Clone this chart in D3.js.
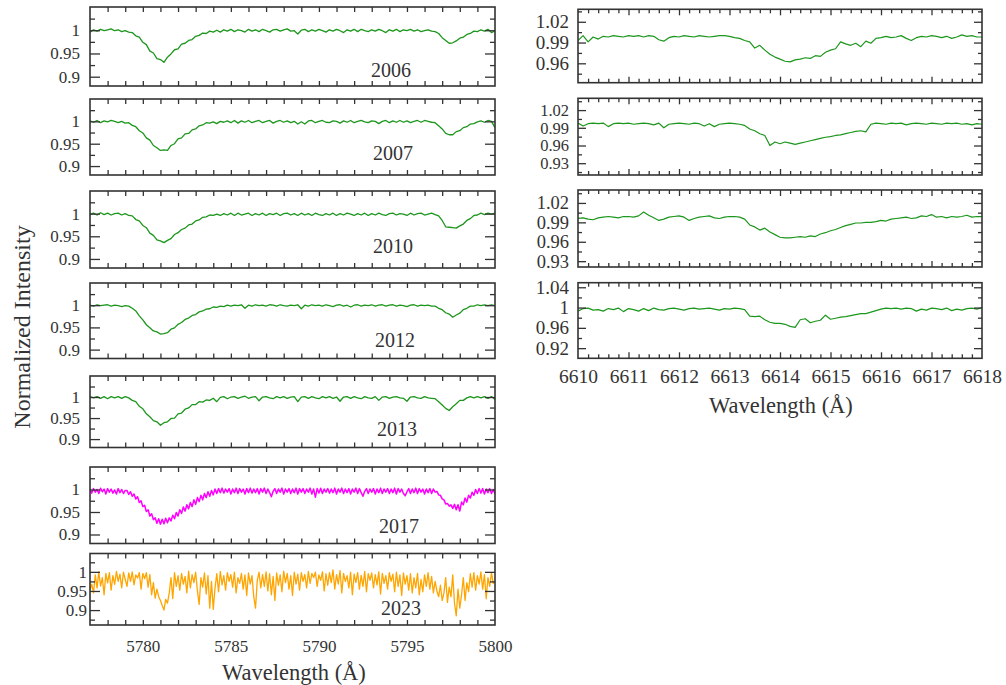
<!DOCTYPE html>
<html>
<head>
<meta charset="utf-8">
<script src="https://cdn.jsdelivr.net/npm/d3@7"></script>
<style>
  body { margin: 0; background: #fff; }
  svg { display: block; }
  text { font-family: "Liberation Serif", "Times New Roman", serif; fill: #333; }
</style>
</head>
<body>
<svg id="fig" width="1006" height="685" font-family="Liberation Serif, serif"></svg>
<script>
// ---- 5780/5797 DIB region, normalized flux per epoch ----
const blueStart = 5777;
const blueEnd = 5800;
const years = ["2006", "2007", "2010", "2012", "2013", "2017", "2023"];

// 0.2 A sampling
const flux2006 = [0.996,1.001,0.998,1.002,0.999,1.001,1.003,0.999,1.001,0.997,0.999,0.996,
  0.995,0.988,0.985,0.974,0.969,0.955,0.951,0.939,0.937,0.931,0.942,0.949,0.958,0.960,0.970,0.972,0.978,0.980,0.987,0.989,0.994,0.993,0.998,0.996,
  1.000,0.996,1.001,0.998,1.002,0.997,1.001,0.999,0.996,1.002,
  0.998,1.001,0.997,1.002,0.999,0.996,1.001,1.002,0.998,1.001,
  1.003,0.998,0.999,0.992,1.000,1.002,0.997,1.001,0.998,1.002,
  0.999,0.996,1.001,0.998,1.002,0.999,0.995,1.001,0.998,1.002,
  0.997,1.002,0.999,0.997,1.001,0.998,1.002,0.999,0.995,1.001,
  0.998,1.002,0.997,1.001,0.999,1.002,0.998,1.001,0.997,0.999,
  1.001,0.998,
  0.997,0.993,0.984,0.978,0.972,0.973,0.977,0.983,0.985,0.991,0.993,0.998,0.997,1.001,0.998,1.002,0.995,0.999];

const flux2007 = [1.001,0.998,1.002,0.997,1.001,0.999,1.002,1.000,0.997,1.000,0.996,0.997,
  0.991,0.988,0.979,0.974,0.963,0.958,0.946,0.941,0.935,0.936,0.935,0.946,0.950,0.961,0.963,0.972,0.973,0.981,0.983,0.990,0.992,0.997,0.996,0.999,
  0.995,1.000,0.998,1.001,0.997,1.002,0.996,1.001,0.998,1.002,
  0.997,1.000,1.002,0.997,1.000,1.002,0.996,1.000,1.002,0.998,
  1.001,0.997,1.000,0.994,0.999,0.994,1.001,1.002,0.997,1.000,
  1.002,0.998,0.997,1.001,1.000,0.996,1.001,0.998,1.002,0.997,
  1.000,1.002,0.999,0.997,1.001,1.000,0.995,1.000,1.002,0.997,
  1.001,0.998,1.002,0.998,1.001,0.997,1.000,1.002,0.998,1.002,
  1.000,0.998,
  0.997,0.990,0.983,0.973,0.970,0.970,0.977,0.979,0.986,0.988,0.994,0.995,0.999,1.001,0.998,1.002,1.000,0.986];

const flux2010 = [0.998,1.001,0.997,1.002,0.998,1.001,0.997,1.000,1.001,0.997,1.000,0.996,
  0.995,0.987,0.984,0.974,0.969,0.957,0.952,0.942,0.940,0.936,0.941,0.945,0.954,0.958,0.965,0.968,0.975,0.977,0.984,0.986,0.992,0.993,0.997,0.996,
  0.999,0.996,1.000,0.997,1.001,0.996,1.001,0.997,0.999,1.001,
  0.996,1.000,0.997,1.001,0.996,1.000,0.998,1.001,0.996,1.000,
  1.001,0.997,1.000,0.996,1.001,0.997,1.000,0.996,1.001,0.998,
  0.996,1.000,0.997,1.001,0.996,1.000,0.997,1.001,0.999,0.996,
  1.000,0.997,1.001,0.996,1.000,0.997,1.001,0.998,0.996,1.000,
  1.001,0.997,1.000,0.999,0.996,1.001,0.997,1.000,1.001,0.997,
  0.999,1.001,
  0.998,0.995,0.985,0.971,0.970,0.969,0.968,0.973,0.977,0.985,0.989,0.996,0.997,1.001,0.998,1.001,0.999,1.001];

const flux2012 = [1.000,0.998,1.001,0.999,1.000,1.001,0.998,1.000,0.999,0.997,0.999,0.998,
  0.993,0.987,0.976,0.967,0.956,0.949,0.942,0.940,0.935,0.936,0.938,0.946,0.949,0.957,0.961,0.968,0.971,0.977,0.979,0.985,0.987,0.991,0.992,0.996,
  0.995,0.998,0.997,1.000,0.998,1.000,0.999,1.001,0.993,1.000,
  0.998,1.001,0.999,1.000,0.998,1.001,1.000,0.998,1.001,0.999,
  0.998,1.000,0.999,1.001,0.992,1.000,0.998,1.001,0.999,1.000,
  0.998,1.001,0.999,0.997,1.000,1.001,0.998,1.000,0.996,1.000,
  1.001,0.998,1.000,0.999,1.001,0.998,1.000,1.001,0.998,1.000,
  1.001,0.998,1.000,0.999,0.997,1.000,1.001,0.998,1.000,0.999,
  1.000,0.998,
  0.998,0.993,0.990,0.983,0.980,0.973,0.978,0.982,0.990,0.993,0.998,0.998,1.001,0.999,1.001,0.999,1.001,0.999];

const flux2013 = [1.001,0.998,1.001,0.997,1.001,0.996,1.001,0.998,1.001,0.997,1.001,0.998,
  0.992,0.989,0.978,0.972,0.960,0.953,0.944,0.941,0.933,0.939,0.941,0.949,0.950,0.960,0.962,0.971,0.974,0.982,0.982,0.989,0.988,0.993,0.992,0.997,
  0.989,0.999,1.001,0.996,1.000,1.001,0.997,1.000,1.002,0.997,
  1.000,1.001,0.991,1.000,1.001,0.998,0.996,1.001,0.998,1.001,
  0.997,1.000,1.001,0.989,1.000,1.001,0.997,1.001,0.998,0.996,
  1.001,0.998,1.001,0.997,1.000,0.990,1.000,1.001,0.997,1.001,
  0.998,0.996,1.001,0.998,0.997,1.001,0.992,1.000,1.001,0.997,
  1.000,1.001,0.998,0.997,0.990,1.000,1.001,0.998,0.997,1.001,
  0.998,0.997,
  0.996,0.989,0.981,0.973,0.968,0.977,0.984,0.992,0.992,0.998,1.001,0.998,1.001,0.998,1.001,0.997,1.001,0.994];

// 0.1 A sampling
const flux2017 = [1.001,0.992,1.002,0.994,1.000,0.991,1.003,0.995,1.001,0.990,1.002,0.994,1.001,0.992,0.999,0.990,1.002,0.993,1.000,0.991,0.998,
  0.998,0.989,0.995,0.985,0.990,0.979,0.984,0.971,0.975,0.962,0.965,0.951,0.955,0.941,0.946,0.933,0.937,0.925,0.935,0.923,
  0.934,0.924,0.936,0.926,0.937,0.930,0.943,0.935,0.949,0.941,0.955,0.947,0.961,0.952,0.966,0.957,0.971,0.962,0.977,0.967,
  0.982,0.973,0.987,0.977,0.991,0.982,0.995,0.985,0.998,0.988,
  1.001,0.991,1.002,0.993,1.003,0.992,1.001,0.994,1.002,0.990,
  1.001,0.993,1.003,0.991,1.002,0.994,1.001,0.990,1.002,0.993,
  1.003,0.992,1.001,0.993,1.002,0.990,1.002,0.994,1.003,0.991,
  1.001,0.993,0.984,0.996,1.002,0.991,1.001,0.994,1.003,0.990,
  1.001,0.994,1.002,0.991,1.001,0.993,1.003,0.990,1.002,0.994,
  1.002,0.991,1.001,0.994,1.003,0.990,1.001,0.983,1.002,0.992,
  1.003,0.991,1.001,0.994,1.002,0.992,1.001,0.993,1.003,0.990,
  1.001,0.994,1.003,0.991,1.001,0.993,1.002,0.990,1.001,0.994,
  1.003,0.991,1.002,0.993,0.985,0.996,1.002,0.991,1.001,0.994,
  1.002,0.990,1.001,0.993,1.003,0.991,1.001,0.994,1.002,0.991,
  1.001,0.993,1.003,0.990,1.002,0.994,1.001,0.991,0.986,0.995,
  1.002,0.991,1.001,0.993,1.003,0.991,1.002,0.994,1.001,0.990,
  1.001,0.993,1.002,0.991,1.001,0.994,
  0.996,0.988,0.987,0.979,0.977,0.968,0.969,0.963,0.966,0.958,0.967,0.955,0.966,0.952,0.972,0.966,0.981,
  0.972,0.987,0.981,0.994,0.987,1.000,0.991,1.002,0.992,1.002,0.990,1.001,0.993,1.002,0.991,1.000,0.990];

const flux2023 = [0.952,0.968,0.945,0.992,0.958,1.000,0.963,0.985,0.940,0.996,0.971,
  0.998,0.952,0.990,0.967,1.001,0.975,0.994,0.958,0.999,0.980,
  0.962,0.997,0.975,1.000,0.966,0.992,0.984,0.998,0.955,0.996,
  0.982,0.998,0.960,0.993,0.940,0.972,0.931,0.955,0.935,0.925,
  0.912,0.900,0.928,0.918,0.945,0.985,0.930,0.998,0.962,0.990,
  0.952,0.996,0.968,0.988,0.945,1.002,0.958,0.993,0.972,0.999,
  0.950,0.915,0.985,0.960,0.997,0.942,0.990,0.905,0.975,0.902,
  0.958,0.995,0.948,1.001,0.966,0.990,0.952,0.998,0.975,0.993,
  0.960,0.999,0.945,0.985,0.970,0.996,0.955,0.992,0.938,0.997,
  0.968,0.990,0.935,0.905,0.978,0.999,0.958,0.993,0.962,1.000,
  0.950,0.995,0.940,0.988,0.925,0.997,0.965,0.992,0.948,1.002,
  0.972,0.996,0.955,0.990,0.938,0.999,0.968,0.994,0.952,0.998,
  0.975,0.993,0.958,1.001,0.970,0.996,0.985,0.999,0.962,0.992,
  0.978,1.000,0.950,0.995,0.965,0.998,0.972,1.005,0.955,0.993,
  0.968,1.003,0.945,0.996,0.975,0.990,0.958,0.999,0.940,0.994,
  0.972,0.998,0.955,0.991,0.962,1.001,0.948,0.995,0.978,0.997,
  0.958,0.993,0.966,1.000,0.942,0.996,0.970,0.990,0.955,0.998,
  0.975,0.994,0.948,0.999,0.962,0.992,0.938,0.997,0.968,0.990,
  0.952,0.995,0.945,0.985,0.958,0.996,0.940,0.980,0.948,0.992,
  0.962,0.998,0.955,0.988,0.945,0.975,0.950,0.935,0.965,0.925,
  0.945,0.985,0.920,0.960,0.935,0.992,0.918,0.885,0.955,0.905,
  0.940,0.985,0.925,0.972,0.948,0.995,0.960,0.998,0.952,0.990,
  0.968,1.000,0.955,0.993,0.930,0.985,0.962,0.998,0.970,0.975];

// ---- 6614 DIB region, 0.1 A sampling ----
const redStart = 6610;
const redEnd = 6618;
const flux6614a = [0.993,1.000,0.991,0.998,0.995,0.999,0.998,1.000,0.999,0.998,1.000,
  0.999,1.000,0.998,1.000,0.999,0.994,0.992,0.997,0.999,0.998,
  1.000,0.999,0.998,1.000,0.999,0.998,0.999,1.000,1.000,0.999,0.997,0.996,
  0.993,0.991,0.982,0.986,0.979,0.973,0.969,0.966,0.963,0.962,0.965,0.966,0.968,0.967,0.971,0.970,0.976,0.979,0.981,0.991,0.988,0.986,0.989,0.984,0.992,0.989,0.996,
  0.997,0.999,0.997,0.998,1.000,0.996,0.993,0.997,0.999,0.998,1.000,0.999,0.997,0.999,0.996,0.998,1.001,0.999,1.000,0.998,0.998];
const flux6614b = [0.998,0.993,0.997,0.998,0.997,0.998,0.992,0.997,0.998,0.997,0.998,
  0.996,0.997,0.998,0.997,0.995,0.998,0.990,0.996,0.997,0.998,
  0.997,0.996,0.998,0.997,0.993,0.997,0.992,0.996,0.997,0.998,0.997,
  0.996,0.994,0.988,0.985,0.980,0.977,0.960,0.966,0.963,0.966,0.964,0.962,0.964,0.966,0.968,0.970,0.972,0.974,0.975,0.977,0.978,0.980,0.982,0.984,0.985,0.983,0.996,
  0.998,0.997,0.996,0.998,0.997,0.998,0.995,0.997,0.998,0.997,0.996,0.998,0.997,0.996,0.998,0.997,0.998,0.996,0.997,0.995,0.997,0.996];
const flux6614c = [0.996,0.997,0.995,0.994,0.997,0.998,0.999,0.998,0.997,0.999,0.999,
  0.998,1.000,1.006,1.001,0.997,0.993,0.995,0.998,0.999,1.000,
  0.998,0.993,0.996,0.998,0.999,1.000,0.997,0.996,0.998,0.999,0.999,0.998,
  0.995,0.986,0.983,0.978,0.981,0.975,0.971,0.967,0.966,0.966,0.967,0.968,0.967,0.969,0.968,0.972,0.974,0.977,0.979,0.982,0.985,0.987,0.989,0.989,0.990,0.990,0.991,
  0.993,0.992,0.995,0.996,0.997,0.998,0.996,0.997,1.000,0.999,1.002,0.998,0.999,0.997,0.999,0.998,0.999,1.001,0.998,0.999,0.999];
const flux6614d = [0.993,0.998,0.999,0.995,0.996,0.993,0.998,0.996,0.999,0.992,0.998,
  0.996,0.993,0.998,0.994,0.999,0.996,0.995,0.998,0.999,0.997,
  0.995,0.998,0.999,0.997,0.998,0.999,0.997,0.995,0.998,0.997,0.999,0.998,
  0.996,0.983,0.982,0.983,0.976,0.971,0.969,0.969,0.967,0.963,0.961,0.976,0.978,0.970,0.973,0.975,0.985,0.977,0.979,0.981,0.982,0.984,0.986,0.988,0.988,0.991,0.994,
  0.997,0.999,0.998,0.999,0.997,0.999,0.998,0.993,0.997,0.995,0.999,0.998,0.996,0.999,0.994,0.997,0.995,0.998,0.999,0.997,1.000];

// ---- tick labels ----
const blueWaveLabels = [5780, 5785, 5790, 5795, 5800];
const redWaveLabels = [6610, 6611, 6612, 6613, 6614, 6615, 6616, 6617, 6618];
const blueFluxLabels = [0.9, 0.95, 1];
const redFluxLabelsA = [0.96, 0.99, 1.02];
const redFluxLabelsB = [0.93, 0.96, 0.99, 1.02];
const redFluxLabelsC = [0.93, 0.96, 0.99, 1.02];
const redFluxLabelsD = [0.92, 0.96, 1, 1.04];

// ---- drawing ----
const SERIF = "Liberation Serif, Times New Roman, serif";
const INK = "#333";
const GREEN = "#1c961c";
const MAGENTA = "#ff00ff";
const ORANGE = "#ffa500";
const svg = d3.select("#fig");
const defs = svg.append("defs");
const fmt = d => String(+d.toFixed(3));

const leftBox = { left: 90, right: 495 };
const rightBox = { left: 578, right: 982 };

const leftPanels = [
  { year: years[0], flux: flux2006, step: 0.2, color: GREEN, top: 7, bottom: 86, dom: [0.88, 1.05], lab: [391, 77], lw: 1.3 },
  { year: years[1], flux: flux2007, step: 0.2, color: GREEN, top: 99, bottom: 175, dom: [0.88, 1.05], lab: [393, 160], lw: 1.3 },
  { year: years[2], flux: flux2010, step: 0.2, color: GREEN, top: 191, bottom: 268, dom: [0.88, 1.05], lab: [393, 253], lw: 1.3 },
  { year: years[3], flux: flux2012, step: 0.2, color: GREEN, top: 283, bottom: 358.5, dom: [0.88, 1.05], lab: [395, 347], lw: 1.3 },
  { year: years[4], flux: flux2013, step: 0.2, color: GREEN, top: 376, bottom: 447.5, dom: [0.88, 1.05], lab: [397, 436], lw: 1.3 },
  { year: years[5], flux: flux2017, step: 0.1, color: MAGENTA, top: 467, bottom: 543.5, dom: [0.88, 1.05], lab: [399, 533], lw: 1.5 },
  { year: years[6], flux: flux2023, step: 0.1, color: ORANGE, top: 553.5, bottom: 625, dom: [0.861, 1.048], lab: [401, 615], lw: 1.3, pad: 3 }
];

const rightPanels = [
  { flux: flux6614a, top: 9.3, bottom: 82.7, dom: [0.932, 1.038], ticks: redFluxLabelsA, minor: [0.945, 0.975, 1.005, 1.035], fs: 19 },
  { flux: flux6614b, top: 98.3, bottom: 175, dom: [0.910, 1.040], ticks: redFluxLabelsB, minor: [0.915, 0.945, 0.975, 1.005, 1.035], fs: 16.5 },
  { flux: flux6614c, top: 190, bottom: 267, dom: [0.921, 1.040], ticks: redFluxLabelsC, minor: [0.945, 0.975, 1.005, 1.035], fs: 18.5 },
  { flux: flux6614d, top: 282.7, bottom: 358.3, dom: [0.900, 1.049], ticks: redFluxLabelsD, minor: [0.94, 0.98, 1.02], fs: 19 }
];

function tickAxis(g, axisFn, scale, values, len, tx, ty) {
  const a = g.append("g").attr("transform", `translate(${tx},${ty})`)
    .call(axisFn(scale).tickValues(values).tickSize(-len).tickFormat(""));
  a.select(".domain").remove();
  a.selectAll("line").attr("stroke", INK).attr("stroke-width", 1.3);
  return a;
}

function labelAxis(g, axis, tx, ty, size) {
  const a = g.append("g").attr("transform", `translate(${tx},${ty})`).call(axis);
  a.attr("font-family", SERIF).attr("font-size", size);
  a.select(".domain").remove();
  a.selectAll("text").attr("fill", INK).style("font-family", SERIF).style("font-size", size + "px");
  return a;
}

function drawSpectrum(g, id, x, y, start, step, flux, color, lw, box) {
  defs.append("clipPath").attr("id", id).append("rect")
    .attr("x", box.left).attr("y", box.top)
    .attr("width", box.right - box.left).attr("height", box.bottom - box.top);
  const pts = flux.map((v, i) => [start + i * step, v]);
  g.append("path").datum(pts)
    .attr("clip-path", `url(#${id})`)
    .attr("fill", "none").attr("stroke", color).attr("stroke-width", lw)
    .attr("stroke-linejoin", "round")
    .attr("d", d3.line().x(d => x(d[0])).y(d => y(d[1])));
}

function frame(g, box) {
  g.append("rect").attr("x", box.left).attr("y", box.top)
    .attr("width", box.right - box.left).attr("height", box.bottom - box.top)
    .attr("fill", "none").attr("stroke", INK).attr("stroke-width", 1.6);
}

function title(x, y, size, str, transform) {
  const t = svg.append("text").attr("text-anchor", "middle")
    .style("font-family", SERIF).style("font-size", size + "px").attr("fill", INK).text(str);
  if (transform) t.attr("transform", transform); else t.attr("x", x).attr("y", y);
  return t;
}

// left column
const xBlue = d3.scaleLinear().domain([blueStart, blueEnd]).range([leftBox.left, leftBox.right]);
const blueMinorX = d3.range(blueStart + 1, blueEnd);
leftPanels.forEach((p, k) => {
  const g = svg.append("g");
  const box = { left: leftBox.left, right: leftBox.right, top: p.top, bottom: p.bottom };
  const y = d3.scaleLinear().domain(p.dom).range([p.bottom, p.top]);
  drawSpectrum(g, "clipL" + k, xBlue, y, blueStart, p.step, p.flux, p.color, p.lw, box);

  const inDom = v => v > p.dom[0] && v < p.dom[1];
  const minorY = [0.875, 0.925, 0.975, 1.025].filter(inDom);
  tickAxis(g, d3.axisBottom, xBlue, blueMinorX, 5, 0, p.bottom);
  tickAxis(g, d3.axisTop, xBlue, blueMinorX, 5, 0, p.top);
  tickAxis(g, d3.axisLeft, y, blueFluxLabels, 10, box.left, 0);
  tickAxis(g, d3.axisLeft, y, minorY, 5, box.left, 0);
  tickAxis(g, d3.axisRight, y, blueFluxLabels, 10, box.right, 0);
  tickAxis(g, d3.axisRight, y, minorY, 5, box.right, 0);

  labelAxis(g, d3.axisLeft(y).tickValues(blueFluxLabels).tickSize(0).tickPadding(p.pad || 10).tickFormat(fmt),
    box.left, 0, 17);

  frame(g, box);
  g.append("text").attr("x", p.lab[0]).attr("y", p.lab[1]).attr("text-anchor", "middle")
    .style("font-family", SERIF).style("font-size", "20px").attr("fill", INK).text(p.year);

  if (k === leftPanels.length - 1) {
    const xl = labelAxis(g, d3.axisBottom(xBlue).tickValues(blueWaveLabels).tickSize(0).tickFormat(d3.format("d")),
      0, p.bottom, 17);
    xl.selectAll("text").attr("dy", 0).attr("y", 652 - p.bottom);
  }
});

// right column
const xRed = d3.scaleLinear().domain([redStart, redEnd]).range([rightBox.left, rightBox.right]);
const redMajorX = d3.range(redStart + 1, redEnd);
const redMinorX = d3.range(1, 40).filter(i => i % 5 !== 0).map(i => redStart + i * 0.2);
rightPanels.forEach((p, k) => {
  const g = svg.append("g");
  const box = { left: rightBox.left, right: rightBox.right, top: p.top, bottom: p.bottom };
  const y = d3.scaleLinear().domain(p.dom).range([p.bottom, p.top]);
  drawSpectrum(g, "clipR" + k, xRed, y, redStart, 0.1, p.flux, GREEN, 1.2, box);

  tickAxis(g, d3.axisBottom, xRed, redMajorX, 6, 0, p.bottom);
  tickAxis(g, d3.axisBottom, xRed, redMinorX, 4, 0, p.bottom);
  tickAxis(g, d3.axisTop, xRed, redMajorX, 6, 0, p.top);
  tickAxis(g, d3.axisTop, xRed, redMinorX, 4, 0, p.top);
  tickAxis(g, d3.axisLeft, y, p.ticks, 8, box.left, 0);
  tickAxis(g, d3.axisLeft, y, p.minor, 4, box.left, 0);
  tickAxis(g, d3.axisRight, y, p.ticks, 8, box.right, 0);
  tickAxis(g, d3.axisRight, y, p.minor, 4, box.right, 0);

  labelAxis(g, d3.axisLeft(y).tickValues(p.ticks).tickSize(0).tickPadding(9).tickFormat(fmt),
    box.left, 0, p.fs);

  frame(g, box);

  if (k === rightPanels.length - 1) {
    const xl = labelAxis(g, d3.axisBottom(xRed).tickValues(redWaveLabels).tickSize(0).tickFormat(d3.format("d")),
      0, p.bottom, 19.5);
    xl.selectAll("text").attr("dy", 0).attr("y", 383.5 - p.bottom);
  }
});

// axis titles
title(294, 680, 22.5, "Wavelength (Å)");
title(781, 413, 22.5, "Wavelength (Å)");
title(0, 0, 24, "Normalized Intensity", "translate(30,327) rotate(-90)");
</script>
</body>
</html>
